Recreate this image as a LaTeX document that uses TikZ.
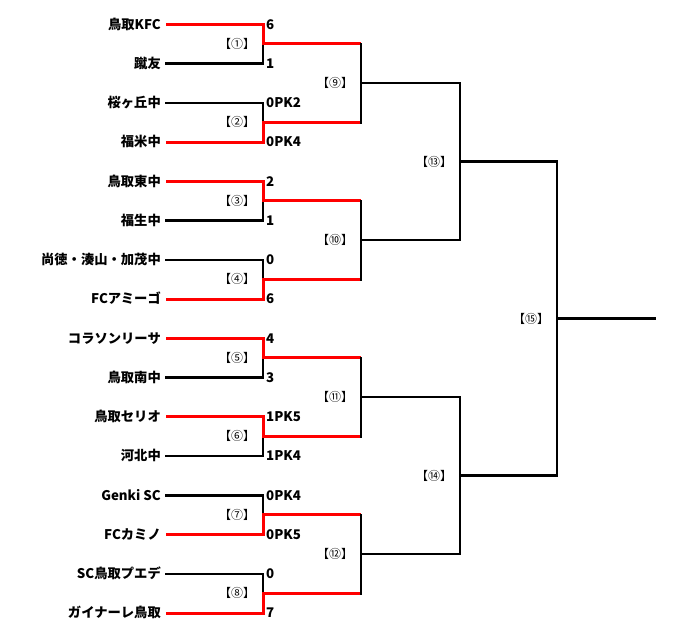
\documentclass[tikz,border=0pt]{standalone}
\usepackage{fontspec}
\setmainfont{Noto Sans CJK JP}
\usetikzlibrary{calc}
\begin{document}
\begin{tikzpicture}[x=1pt,y=-1pt,
  team/.style={anchor=base east,inner sep=0pt,font=\fontsize{13.3}{13}\selectfont\bfseries},
  score/.style={anchor=base west,inner sep=0pt,font=\fontsize{13.3}{13}\selectfont\bfseries},
  rnd/.style={anchor=center,inner sep=0pt,font=\fontsize{12}{12}\selectfont},
  bline/.style={draw=black,line width=2.4pt,line cap=rect,line join=miter},
  wline/.style={draw=red,line width=3pt,line cap=butt,line join=miter}]
\useasboundingbox (0,0) rectangle (700,636);
% team rows
\foreach \i/\nm/\sc in {
  1/鳥取KFC/6, 2/蹴友/1, 3/桜ヶ丘中/0PK2, 4/福米中/0PK4,
  5/鳥取東中/2, 6/福生中/1, 7/尚徳・湊山・加茂中/0, 8/FCアミーゴ/6,
  9/コラソンリーサ/4, 10/鳥取南中/3, 11/鳥取セリオ/1PK5, 12/河北中/1PK4,
  13/Genki SC/0PK4, 14/FCカミノ/0PK5, 15/SC鳥取プエデ/0, 16/ガイナーレ鳥取/7}{
  \pgfmathsetmacro{\yy}{24.3+39.25*(\i-1)}
  \coordinate (s\i) at (166,\yy);
  \coordinate (c\i) at (263,\yy);
  \node[team] (n\i) at (161,\yy+4.8) {\nm};
  \node[score] (p\i) at (266,\yy+4.8) {\sc};
}
% round 1
\foreach \k/\w/\l/\lab in {1/1/2/①, 2/4/3/②, 3/5/6/③, 4/8/7/④,
  5/9/10/⑤, 6/11/12/⑥, 7/14/13/⑦, 8/16/15/⑧}{
  \pgfmathsetmacro{\yy}{24.3+39.25*(2*\k-1.5)}
  \coordinate (m\k) at (263,\yy);
  \coordinate (e\k) at (361,\yy);
  \draw[bline] (s\l) -- (c\l) -- (m\k);
  \draw[wline] (s\w) -- (c\w) -- (m\k) -- (e\k);
  \node[rnd] (r\k) at ($(m\k)+(-26,0)$) {【\lab】};
}
% round 2
\foreach \j/\a/\b/\lab in {1/1/2/⑨, 2/3/4/⑩, 3/5/6/⑪, 4/7/8/⑫}{
  \coordinate (q\j) at ($(e\a)!0.5!(e\b)$);
  \coordinate (f\j) at ($(q\j)+(99,0)$);
  \draw[bline] (e\a) -- (e\b);
  \draw[bline] (q\j) -- (f\j);
  \node[rnd] (rr\j) at ($(q\j)+(-26,0)$) {【\lab】};
}
% round 3
\foreach \j/\a/\b/\lab in {1/1/2/⑬, 2/3/4/⑭}{
  \coordinate (g\j) at ($(f\a)!0.5!(f\b)$);
  \coordinate (h\j) at ($(g\j)+(97,0)$);
  \draw[bline] (f\a) -- (f\b);
  \draw[bline] (g\j) -- (h\j);
  \node[rnd] (rs\j) at ($(g\j)+(-26,0)$) {【\lab】};
}
% final
\coordinate (fk) at ($(h1)!0.5!(h2)$);
\coordinate (fe) at ($(fk)+(98,0)$);
\draw[bline] (h1) -- (h2);
\draw[bline] (fk) -- (fe);
\node[rnd] (rf) at ($(fk)+(-26,0)$) {【⑮】};
\end{tikzpicture}
\end{document}
